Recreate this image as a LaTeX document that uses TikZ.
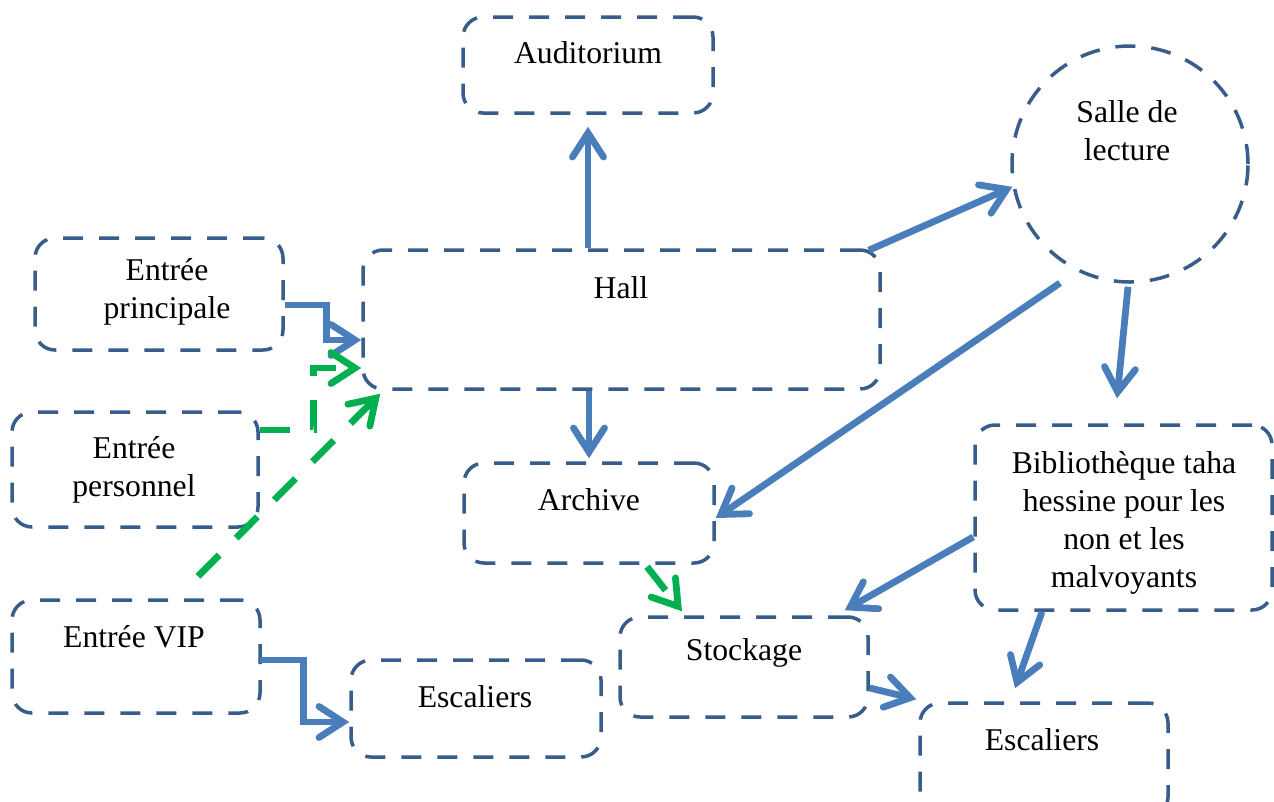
\documentclass[tikz,border=0pt]{standalone}
\usepackage{fontspec}
\setmainfont{Liberation Serif}
\usetikzlibrary{arrows.meta}
\definecolor{boxblue}{RGB}{56,93,138}
\definecolor{arrblue}{RGB}{74,126,187}
\definecolor{arrgreen}{RGB}{0,176,80}
\begin{document}
\begin{tikzpicture}[x=1pt,y=-1pt,
  box/.style={draw=boxblue, line width=3.5pt, dash pattern=on 20pt off 16pt,
    rounded corners=20pt, inner sep=0pt},
  lbl/.style={font=\fontsize{31.7}{38}\selectfont, align=center, inner sep=0pt},
  tipb/.style={-{Straight Barb[length=24pt,width=31pt,line cap=round]}},
  flow/.style={draw=arrblue, line width=6.8pt, tipb},
  staff/.style={draw=arrgreen, line width=6.8pt, dash pattern=on 30pt off 24pt, tipb}]
\useasboundingbox (0,0) rectangle (1274,801);
\clip (0,0) rectangle (1274,801);

% rooms
\node[box, minimum width=250pt, minimum height=96pt] (aud) at (588,65) {};
\node[box, circle, minimum size=236pt] (sal) at (1130,164) {};
\node[box, minimum width=248pt, minimum height=112pt] (epr) at (159,294) {};
\node[box, minimum width=517pt, minimum height=139pt] (hall) at (621.5,319.5) {};
\node[box, minimum width=246pt, minimum height=115pt] (epe) at (135,469.5) {};
\node[box, minimum width=250pt, minimum height=100pt] (arc) at (589,513) {};
\node[box, minimum width=297pt, minimum height=185pt] (bib) at (1123.5,517.5) {};
\node[box, minimum width=248pt, minimum height=113pt] (vip) at (136,656.5) {};
\node[box, minimum width=250pt, minimum height=97pt] (esl) at (476,708.5) {};
\node[box, minimum width=248pt, minimum height=100pt] (sto) at (744,667) {};
\node[box, minimum width=248pt, minimum height=114pt] (esr) at (1044,760) {};

% labels
\node[lbl] (audt) at (588,53) {Auditorium};
\node[lbl] (salt) at (1127,131) {Salle de\\lecture};
\node[lbl] (eprt) at (167,292) {Entrée\\principale};
\node[lbl] (hallt) at (621,288) {Hall};
\node[lbl] (epet) at (134,470) {Entrée\\personnel};
\node[lbl] (arct) at (589,500) {Archive};
\node[lbl] (bibt) at (1124,523) {Bibliothèque taha\\hessine pour les\\non et les\\malvoyants};
\node[lbl] (vipt) at (134,637) {Entrée VIP};
\node[lbl] (eslt) at (475,697) {Escaliers};
\node[lbl] (stot) at (744,653) {Stockage};
\node[lbl] (esrt) at (1042,740) {Escaliers};

% visitor flows
\draw[flow] (hall.north -| aud.south) -- ([yshift=-12pt]aud.south);
\draw[flow] ([yshift=-11pt]epr.east) -- ++(42,0) |- ([yshift=-20.5pt]hall.west);
\draw[flow] (hall.south -| arc.north) -- ([yshift=3pt]arc.north);
\draw[flow] ([xshift=-13pt,yshift=-2pt]hall.north east) -- (sal.191);
\draw[flow] ([xshift=-70pt,yshift=-119pt]sal.center) -- ([yshift=-5pt]arc.east);
\draw[flow] ([xshift=-2pt,yshift=-3pt]sal.south) -- ([xshift=-6.5pt,yshift=25pt]bib.north);
\draw[flow] ([yshift=-19.5pt]bib.west) -- ([xshift=-25pt,yshift=5pt]sto.north east);
\draw[flow] ([xshift=-81.5pt]bib.south) -- ([xshift=-29pt,yshift=13pt]esr.north);
\draw[flow] ([yshift=-21pt]sto.east) -- ([xshift=-2pt,yshift=2pt]esr.north west);
\draw[flow] ([xshift=-2pt,yshift=-3.5pt]vip.east) -- ++(44,0) |- ([yshift=-13.5pt]esl.west);

% staff flows
\draw[staff] ([yshift=39.5pt]epe.east) -- ++(54,0) |- ([yshift=-48.5pt]hall.west);
\draw[staff] ([xshift=62pt,yshift=22pt]vip.north) -- ([xshift=19pt,yshift=-3pt]hall.south west);
\draw[staff] ([xshift=58pt,yshift=-2pt]arc.south) -- ([xshift=-62pt,yshift=4pt]sto.north);
\end{tikzpicture}
\end{document}
